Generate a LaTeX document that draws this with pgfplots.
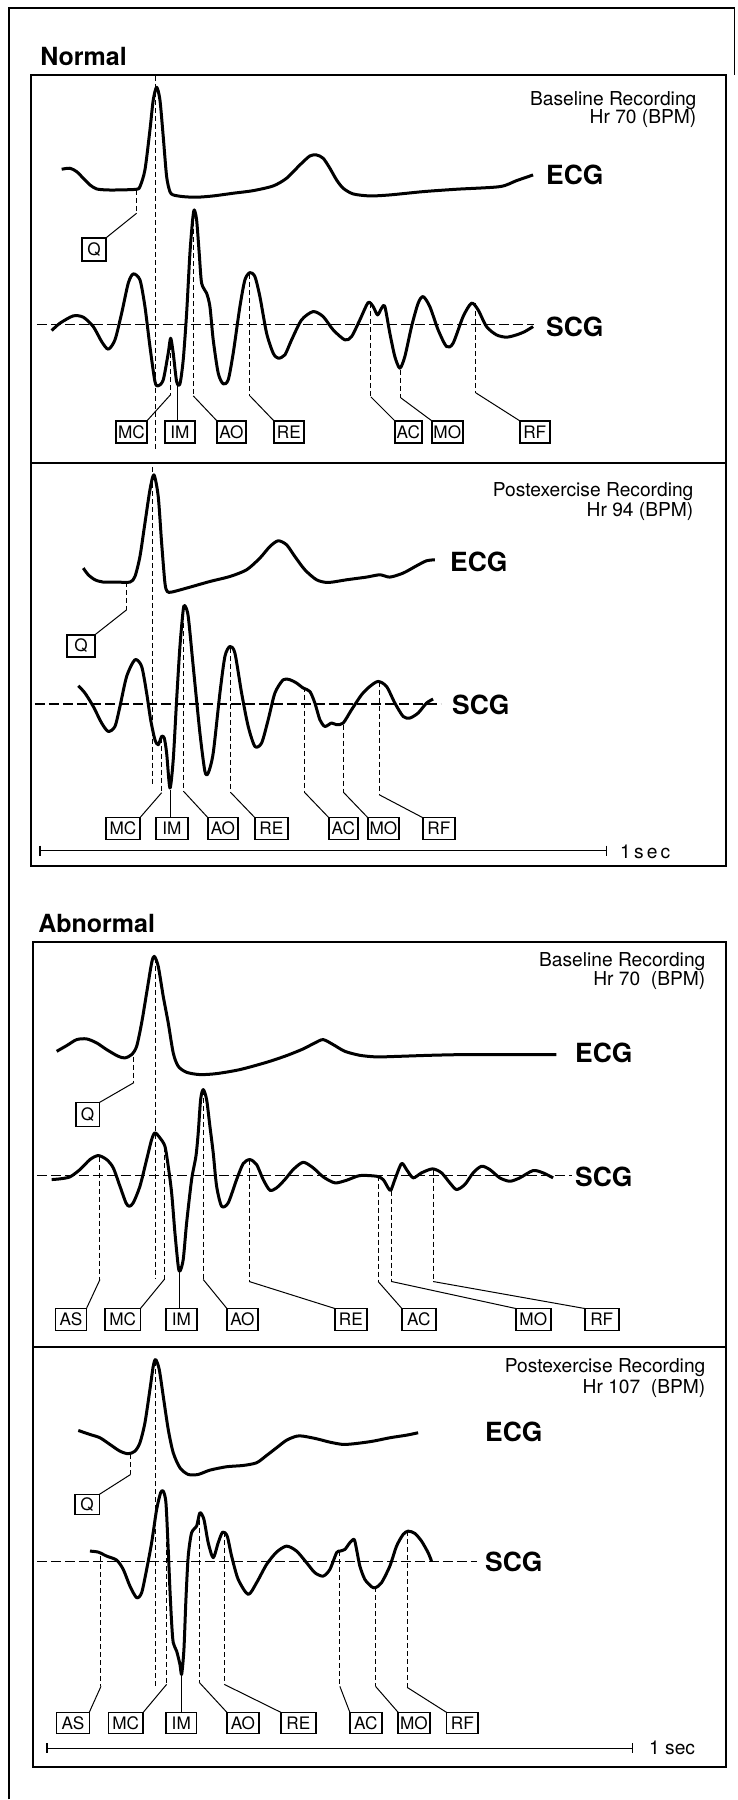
\documentclass[border=0pt]{standalone}
\usepackage{pgfplots}
\pgfplotsset{compat=1.18}
\usepackage{fontspec}
\setmainfont{TeX Gyre Heros}
\newcommand{\boxfont}{\fontsize{8.6}{9}\selectfont}
\newcommand{\recfont}{\fontsize{9.6}{11}\selectfont}
\newcommand{\sigfont}{\fontsize{13.2}{15}\selectfont\bfseries}
\newcommand{\headfont}{\fontsize{12.5}{15}\selectfont\bfseries}
\tikzset{
  curve/.style={line width=1.5pt, smooth, tension=0.45, line join=round, black},
  frm/.style={line width=1pt},
  dl/.style={line width=0.5pt, dash pattern=on 2.5pt off 1.5pt},
  bl/.style={line width=0.6pt, dash pattern=on 5pt off 2pt},
  sl/.style={line width=0.5pt},
  bxs/.style={line width=0.75pt}
}
% box: x1 x2 y1 y2 text
\newcommand{\bx}[5]{\draw[bxs] (axis cs:#1,#3) rectangle node[font=\boxfont, inner sep=0pt] {#5} (axis cs:#2,#4);}
% leader: x ytop ybot boxx boxy
\newcommand{\lead}[5]{\draw[dl] (axis cs:#1,#2) -- (axis cs:#1,#3); \draw[sl] (axis cs:#1,#3) -- (axis cs:#4,#5);}
\begin{document}
\begin{tikzpicture}
\begin{axis}[
  width=369pt, height=900pt, scale only axis,
  xmin=0, xmax=738, ymin=0, ymax=1800, y dir=reverse,
  hide axis, clip=false
]
\path (axis cs:0,0) rectangle (axis cs:738,1800);
% outer frame
\draw[line width=0.7pt] (axis cs:9,1800) -- (axis cs:9,8) -- (axis cs:735,8) -- (axis cs:735,75);
% headings
\node[anchor=west, inner sep=0pt, font=\headfont] at (axis cs:40,57) {Normal};
\node[anchor=west, inner sep=0pt, font=\headfont] at (axis cs:38,924) {Abnormal};
% panel frames
\draw[frm] (axis cs:31,75) rectangle (axis cs:726,463);
\draw[frm] (axis cs:31,463) rectangle (axis cs:726,866);
\draw[frm] (axis cs:33,942) rectangle (axis cs:726,1348);
\draw[frm] (axis cs:33,1348) rectangle (axis cs:726,1768);

% ================= Panel 1 =================
\node[anchor=base east, inner sep=0pt, font=\recfont] at (axis cs:697,106) {Baseline Recording};
\node[anchor=base east, inner sep=0pt, font=\recfont] at (axis cs:697,124) {Hr 70 (BPM)};
\node[anchor=west, inner sep=0pt, font=\sigfont] at (axis cs:546,175) {ECG};
\node[anchor=west, inner sep=0pt, font=\sigfont] at (axis cs:546,326.7) {SCG};
\draw[bl] (axis cs:37,325) -- (axis cs:534,325);
\addplot[curve] coordinates {(61.7,169.3)(70,168.3)(76.7,171.7)(83.3,178.3)(90,185)(96.7,189)(106.7,190)(120,190)(136.7,189.3)(140,186.7)(145,170)(150,130)(153.3,100)(156.7,87.3)(160,100)(163.3,136.7)(166.7,176.7)(170,191.7)(173.3,195)(183.3,196.7)(196.7,197.3)(213.3,196)(233.3,193.3)(253.3,190.7)(273.3,186)(286.7,178.3)(300,165)(310,156)(316.7,155)(323.3,158.3)(330,168.3)(336.7,180)(343.3,188.3)(353.3,194)(370,196)(390,195)(423.3,191.7)(456.7,189.3)(500,186.7)(516.7,180.7)(533.3,175)};
\addplot[curve] coordinates {(51.7,330.7)(60,323.3)(73.3,316)(83.3,317.3)(93.3,326.7)(101.7,341.7)(108.3,349.3)(115,340)(121.7,313.3)(128.3,283.3)(133.3,274)(140,280)(145,306.7)(150,346.7)(155,381.7)(158.3,386)(163.3,380)(168.3,353.3)(170.7,338.3)(173.3,353.3)(176.7,381.7)(180,384)(183.3,360)(186.7,313.3)(190,253.3)(192.7,220)(194.3,210)(196.7,220)(199.3,253.3)(201.7,283.3)(206.7,293.3)(210,306.7)(213.3,340)(218.3,373.3)(223.3,384)(228.3,380)(233.3,353.3)(240,306.7)(245,280)(250,272.7)(255,276.7)(260,296.7)(266.7,333.3)(273.3,353.3)(278.3,358.3)(285,355)(291.7,340)(301.7,320)(313.3,311.7)(323.3,316.7)(333.3,330)(345,340)(351.7,336.7)(360,320)(368.3,302.7)(373.3,306.7)(377.7,315)(381.7,308.3)(385,306.7)(390,333.3)(395,356.7)(400,368.3)(405,356.7)(411.7,326.7)(418.3,303.3)(423.3,296.7)(430,306.7)(438.3,330)(446.7,346.7)(453.3,343.3)(463.3,316.7)(471.7,303.3)(478.3,310)(486.7,326.7)(496.7,335)(506.7,337.3)(516.7,335)(525,331.7)(533.3,326.7)};
\draw[dl] (axis cs:155.5,76) -- (axis cs:155.5,452);
\lead{136.7}{190}{213.3}{106}{238}
\bx{82}{106}{238}{261}{Q}
\lead{170.5}{345}{395}{147}{421}
\draw[sl] (axis cs:177.7,386) -- (axis cs:177.7,421);
\lead{193.3}{213}{396}{217}{421}
\lead{250}{274}{396}{274}{421}
\lead{371}{303}{397}{395}{421}
\lead{401}{370}{398}{432}{421}
\lead{476}{303}{393}{520}{421}
\bx{116}{147}{421}{443}{MC}
\bx{165}{195}{421}{443}{IM}
\bx{217}{246}{421}{443}{AO}
\bx{274}{304}{421}{443}{RE}
\bx{395}{422}{421}{443}{AC}
\bx{432}{463}{421}{443}{MO}
\bx{520}{550}{421}{443}{RF}

% ================= Panel 2 =================
\node[anchor=base east, inner sep=0pt, font=\recfont] at (axis cs:694,497) {Postexercise Recording};
\node[anchor=base east, inner sep=0pt, font=\recfont] at (axis cs:694,517) {Hr 94 (BPM)};
\node[anchor=west, inner sep=0pt, font=\sigfont] at (axis cs:450,561.7) {ECG};
\node[anchor=west, inner sep=0pt, font=\sigfont] at (axis cs:452,705) {SCG};
\draw[bl] (axis cs:35,704.3) -- (axis cs:441,704.3);
\addplot[curve] coordinates {(83.3,568.3)(88.3,575)(95,580)(103.3,582.3)(116.7,582.3)(130,582.3)(135,576.7)(140,556.7)(145,523.3)(150,490)(154,475)(158.3,496.7)(161.7,543.3)(165,583.3)(167.3,591.7)(171.7,592.3)(186.7,588.3)(210,581.7)(230,576.7)(246.7,570)(260,558.3)(270,546.7)(278.3,541)(286.7,545)(295,556.7)(305,570)(316.7,580)(328.3,582.7)(346.7,580)(366.7,577.3)(380,575)(390,577.3)(403.3,573.3)(416.7,566)(426.7,561)(435,560)};
\addplot[curve] coordinates {(78.3,686)(85,693.3)(93.3,706.7)(101.7,723.3)(108.3,731.7)(115,726.7)(120,706.7)(126.7,676.7)(135,660)(141.7,666.7)(146.7,693.3)(150.7,720)(155,740)(158.3,745)(161.7,736.7)(164.3,738.3)(166.7,753.3)(170,788.3)(173.3,760)(176.7,700)(180,646.7)(183.3,610)(185,606)(188.3,616.7)(193.3,666.7)(200,733.3)(205,771.7)(208.3,773.3)(213.3,753.3)(220,693.3)(225,656.7)(230,646.7)(235,653.3)(241.7,693.3)(248.3,726.7)(255,746.7)(261.7,743.3)(268.3,720)(275,693.3)(283.3,680)(290,680)(296.7,683.3)(303.3,688.3)(310,691.7)(315,703.3)(320,720)(325,726.7)(331.7,723.3)(336.7,725)(343.3,723.3)(351.7,710)(361.7,695)(370,686.7)(378.3,681.7)(386.7,686.7)(395,703.3)(403.3,716.7)(410,718.3)(418.3,713.3)(426.7,703.3)(433.3,699.3)};
\draw[dl] (axis cs:153,467) -- (axis cs:153,785);
\lead{126.7}{582}{610}{95}{635}
\bx{67}{95}{635}{657}{Q}
\lead{161.7}{738}{793}{140}{818}
\draw[sl] (axis cs:170.7,790) -- (axis cs:170.7,818);
\lead{184}{607}{792}{208}{818}
\lead{231}{648}{793}{255}{818}
\lead{305}{687}{793}{329}{818}
\lead{344}{725}{793}{368}{818}
\lead{379.3}{682}{795}{423}{818}
\bx{106}{140}{818}{840}{MC}
\bx{156}{188}{818}{840}{IM}
\bx{208}{238}{818}{840}{AO}
\bx{255}{288}{818}{840}{RE}
\bx{329}{358}{818}{840}{AC}
\bx{368}{399}{818}{840}{MO}
\bx{423}{455}{818}{840}{RF}
\draw[line width=0.6pt] (axis cs:40,851) -- (axis cs:607,851);
\draw[line width=0.6pt] (axis cs:40,846) -- (axis cs:40,856);
\draw[line width=0.6pt] (axis cs:607,846) -- (axis cs:607,856);
\node[anchor=west, inner sep=0pt, font=\recfont] at (axis cs:620,852) {1\,s\,e\,c};

% ================= Panel 3 =================
\node[anchor=base east, inner sep=0pt, font=\recfont] at (axis cs:706,967) {Baseline Recording};
\node[anchor=base east, inner sep=0pt, font=\recfont] at (axis cs:706,986) {Hr 70\ \ (BPM)};
\node[anchor=west, inner sep=0pt, font=\sigfont] at (axis cs:575,1053) {ECG};
\node[anchor=west, inner sep=0pt, font=\sigfont] at (axis cs:575,1177) {SCG};
\draw[bl] (axis cs:37,1176) -- (axis cs:572,1176);
\addplot[curve] coordinates {(56.7,1051.7)(66.7,1046)(76.7,1040)(86.7,1039.3)(96.7,1043.3)(106.7,1050)(118.3,1056.7)(125,1058.3)(131.7,1055)(136.7,1046.7)(141.7,1023.3)(146.7,993.3)(151.7,963.3)(154.3,956.7)(158.3,966.7)(163.3,996.7)(168.3,1023.3)(173.3,1053.3)(178.3,1066.7)(186.7,1072.7)(200,1075)(216.7,1074)(240,1070)(266.7,1062.7)(286.7,1056)(303.3,1049.3)(315,1043.3)(323.3,1040)(333.3,1045)(345,1051.7)(360,1055.7)(376.7,1057.3)(400,1056.7)(430,1055.7)(463.3,1055)(506.7,1055)(556.7,1055)};
\addplot[curve] coordinates {(51.7,1180)(60,1179.3)(70,1177.3)(80,1170)(90,1160)(98.3,1156)(106.7,1160)(113.3,1168.3)(120,1186.7)(126,1203.3)(129.3,1206.7)(133.3,1203.3)(140,1186.7)(146.7,1160)(151.7,1140)(155,1133.3)(160,1138.3)(165,1146.7)(168.3,1166.7)(171.7,1193.3)(175,1233.3)(178.3,1266.7)(180,1271.7)(183.3,1260)(186.7,1223.3)(191.7,1180)(196,1156.7)(198.3,1133.3)(200.7,1100)(203.3,1090)(206.7,1100)(210,1126.7)(213.3,1153.3)(216.7,1186.7)(221.7,1206.7)(228.3,1203.3)(236.7,1180)(243.3,1164)(250,1160)(256.7,1165)(263.3,1180)(270,1190.7)(276.7,1188.3)(285,1180)(293.3,1170)(303.3,1162.7)(313.3,1168.3)(323.3,1177.3)(335,1183.3)(346.7,1180.7)(360,1176)(376.7,1176.7)(383.3,1180)(388.3,1188.3)(391,1190.7)(395,1180)(401.7,1164)(406.7,1170)(413.3,1178.3)(421.7,1173.3)(432.7,1169.3)(441.7,1173.3)(450,1183.3)(456.7,1190)(465,1185)(473.3,1173.3)(481.7,1166.7)(490,1170)(500,1178.3)(510,1181.7)(520,1178.3)(533.3,1171)(543.3,1173.3)(553.3,1178.3)};
\draw[dl] (axis cs:156,958) -- (axis cs:156,1279);
\lead{134}{1057}{1083}{99.3}{1103}
\bx{76}{99.3}{1103}{1127}{Q}
\lead{100}{1157}{1280}{86.5}{1309}
\lead{164.3}{1147}{1280}{140.5}{1309}
\draw[sl] (axis cs:179.3,1272) -- (axis cs:179.3,1309);
\lead{203.3}{1090}{1280}{227}{1309}
\lead{249.3}{1160}{1282}{335}{1309}
\lead{378.3}{1176}{1282}{402}{1309}
\lead{391.7}{1191}{1282}{516}{1309}
\lead{433.3}{1170}{1282}{585}{1309}
\bx{55.5}{86.5}{1309}{1331}{AS}
\bx{105}{140.5}{1309}{1331}{MC}
\bx{166}{197}{1309}{1331}{IM}
\bx{227}{258}{1309}{1331}{AO}
\bx{335}{367}{1309}{1331}{RE}
\bx{402}{436}{1309}{1331}{AC}
\bx{516}{551}{1309}{1331}{MO}
\bx{585}{619}{1309}{1331}{RF}

% ================= Panel 4 =================
\node[anchor=base east, inner sep=0pt, font=\recfont] at (axis cs:706,1373) {Postexercise Recording};
\node[anchor=base east, inner sep=0pt, font=\recfont] at (axis cs:706,1394) {Hr 107\ \ (BPM)};
\node[anchor=west, inner sep=0pt, font=\sigfont] at (axis cs:485,1432) {ECG};
\node[anchor=west, inner sep=0pt, font=\sigfont] at (axis cs:485,1562) {SCG};
\draw[bl] (axis cs:37,1561.7) -- (axis cs:477,1561.7);
\addplot[curve] coordinates {(78.3,1431)(90,1435)(100,1438.3)(110,1445)(120,1451.7)(128.3,1454.3)(135,1451.7)(140,1443.3)(145,1423.3)(150,1390)(153.3,1366.7)(155.7,1360)(159.3,1370)(163.3,1396.7)(168.3,1430)(173.3,1453.3)(180,1468.3)(188.3,1475)(198.3,1475)(210,1470.7)(226.7,1467.3)(243.3,1466)(256.7,1463.3)(266.7,1456)(276.7,1448.3)(286.7,1440.7)(296.7,1436.7)(303.3,1436.7)(316.7,1439.3)(330,1442.7)(343.3,1445)(356.7,1444)(373.3,1441.7)(390,1438.3)(406.7,1435.7)(418.3,1433.3)};
\addplot[curve] coordinates {(90,1551.7)(98.3,1552.7)(106.7,1556.7)(116.7,1560.7)(123.3,1570)(130,1586.7)(136.7,1598.3)(141.7,1593.3)(146.7,1570)(151.7,1543.3)(156.7,1510)(160.7,1493.3)(163.3,1491.7)(166,1503.3)(168.3,1550)(170,1590)(171.7,1623.3)(173.3,1643.3)(176.7,1651.7)(180,1665)(181.7,1675)(184,1650)(186,1600)(188.3,1556.7)(191.7,1533.3)(196.7,1526.7)(200,1513.3)(204,1520)(208.3,1543.3)(213.3,1558.3)(218.3,1543.3)(222.7,1532.7)(227.3,1536.7)(231.7,1556.7)(238.3,1580)(248.3,1595)(256.7,1583.3)(266.7,1565)(276.7,1552.7)(286.7,1546.7)(296.7,1551.7)(306.7,1563.3)(315,1573.3)(323.3,1576.7)(330,1570)(336.7,1553.3)(340,1551.7)(345,1550)(350,1543.3)(354.3,1540)(356.7,1550)(360,1566.7)(365,1580)(371.7,1587.3)(375.7,1588.3)(381.7,1583.3)(390,1566.7)(396.7,1546.7)(403.3,1535)(408.3,1531.7)(415,1534)(421.7,1541.7)(428.3,1553.3)(431.7,1561.7)};
\draw[dl] (axis cs:155.7,1362) -- (axis cs:155.7,1687);
\lead{130.7}{1455}{1475}{99.3}{1495}
\bx{75}{99.3}{1495}{1515}{Q}
\lead{101}{1557}{1687}{89.3}{1713}
\lead{166.7}{1503}{1685}{143.3}{1713}
\draw[sl] (axis cs:181.7,1675) -- (axis cs:181.7,1713);
\lead{199.3}{1513}{1683}{227}{1713}
\lead{224.3}{1533}{1685}{281}{1713}
\lead{340}{1552}{1687}{350}{1713}
\lead{375.7}{1588}{1687}{398.3}{1713}
\lead{407.3}{1532}{1688}{446.7}{1713}
\bx{56.7}{89.3}{1713}{1734}{AS}
\bx{108.3}{143.3}{1713}{1734}{MC}
\bx{166}{196.7}{1713}{1734}{IM}
\bx{227}{259}{1713}{1734}{AO}
\bx{281}{316}{1713}{1734}{RE}
\bx{350}{382}{1713}{1734}{AC}
\bx{398.3}{430}{1713}{1734}{MO}
\bx{446.7}{478.3}{1713}{1734}{RF}
\draw[line width=0.6pt] (axis cs:47,1749) -- (axis cs:633,1749);
\draw[line width=0.6pt] (axis cs:47,1744) -- (axis cs:47,1754);
\draw[line width=0.6pt] (axis cs:633,1744) -- (axis cs:633,1754);
\node[anchor=west, inner sep=0pt, font=\recfont] at (axis cs:649,1748) {1 sec};
\end{axis}
\end{tikzpicture}
\end{document}
